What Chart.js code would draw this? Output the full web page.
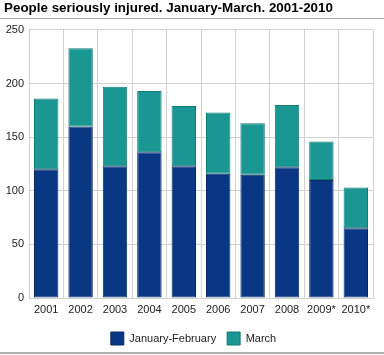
<!DOCTYPE html>
<html>
<head>
<meta charset="utf-8">
<script src="https://cdn.jsdelivr.net/npm/chart.js@4.4.1/dist/chart.umd.min.js"></script>
<style>
  html, body { margin: 0; padding: 0; background: #fff; }
  #wrap { position: relative; width: 384px; height: 355px; }
</style>
</head>
<body>
<div id="wrap"><canvas id="c" width="384" height="355"></canvas></div>
<script>
const titleText = "People seriously injured. January-March. 2001-2010";
const categories = ["2001", "2002", "2003", "2004", "2005", "2006", "2007", "2008", "2009*", "2010*"];
const janFeb = [120, 160, 123, 136, 123, 116, 115, 122, 110, 65];
const march = [66, 73, 74, 57, 56, 57, 48, 58, 36, 38];
const seriesNames = ["January-February", "March"];
const yTicks = [0, 50, 100, 150, 200, 250];

const FONT = "'Liberation Sans', Arial, sans-serif";

const linesPlugin = {
  id: 'lines',
  afterLayout(chart) {
    // shift legend slightly to the right to match reference
    const lg = chart.legend;
    if (lg) { lg.left += 5; lg.right += 5; }
  },
  afterDraw(chart) {
    const ctx = chart.ctx;
    ctx.save();
    ctx.fillStyle = '#a8a8a8';
    ctx.fillRect(0, 18, 384, 1);
    ctx.fillStyle = '#b0b0b0';
    ctx.fillRect(0, 352, 384, 2);
    ctx.restore();
  }
};

new Chart(document.getElementById('c'), {
  type: 'bar',
  data: {
    labels: categories,
    datasets: [
      {
        label: seriesNames[0],
        data: janFeb,
        backgroundColor: '#0a3784',
        borderColor: '#072a66',
        borderWidth: 1,
        borderSkipped: false,
        categoryPercentage: 1,
        barPercentage: 0.71
      },
      {
        label: seriesNames[1],
        data: march,
        backgroundColor: '#1a9792',
        borderColor: '#137a76',
        borderWidth: 1,
        borderSkipped: false,
        categoryPercentage: 1,
        barPercentage: 0.71
      }
    ]
  },
  options: {
    responsive: false,
    animation: false,
    devicePixelRatio: 1,
    layout: { padding: { left: 4, right: 11, top: 0, bottom: 0 } },
    plugins: {
      title: {
        display: true,
        text: titleText,
        align: 'start',
        color: '#000',
        font: { family: FONT, size: 13.4, weight: 'bold' },
        padding: { top: 0, bottom: 13.9 }
      },
      legend: {
        position: 'bottom',
        labels: {
          boxWidth: 13,
          boxHeight: 13,
          padding: 11,
          color: '#222',
          font: { family: FONT, size: 11 }
        }
      },
      tooltip: { enabled: false }
    },
    scales: {
      x: {
        stacked: true,
        grid: { color: '#d2d2d2', lineWidth: 1, drawTicks: false, offset: true },
        border: { color: '#d2d2d2' },
        ticks: { color: '#222', font: { family: FONT, size: 11 }, padding: 5, maxRotation: 0, autoSkip: false },
        afterFit(scale) { scale.height = 23; }
      },
      y: {
        stacked: true,
        min: 0,
        max: 250,
        grid: { color: '#d2d2d2', lineWidth: 1, drawTicks: false },
        border: { color: '#d2d2d2' },
        afterBuildTicks(scale) { scale.ticks = yTicks.map(v => ({ value: v })); },
        ticks: { color: '#222', font: { family: FONT, size: 11 }, padding: 5 },
        afterFit(scale) { scale.width = 25; }
      }
    }
  },
  plugins: [linesPlugin]
});
</script>
</body>
</html>
